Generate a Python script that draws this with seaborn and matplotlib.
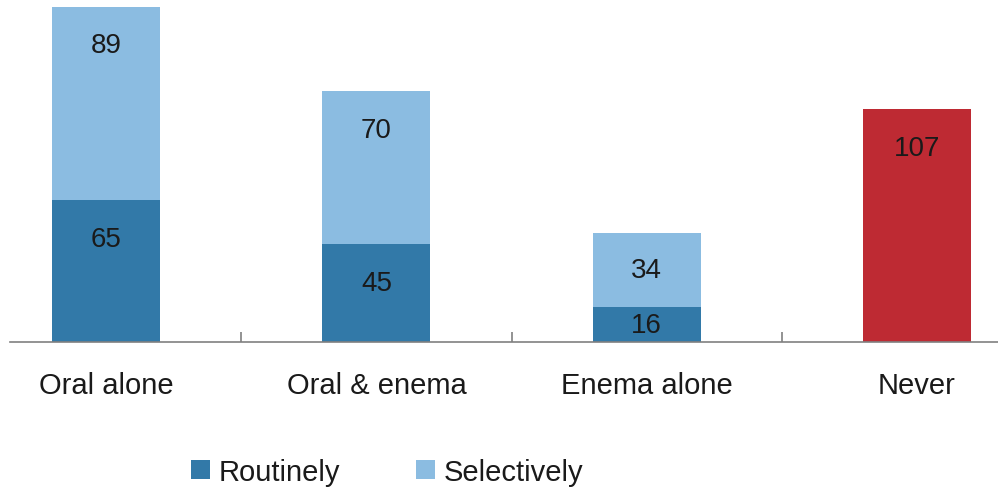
import matplotlib
matplotlib.use("Agg")
import matplotlib.pyplot as plt
from matplotlib.patches import Patch
import numpy as np
import pandas as pd
import seaborn as sns

# Bowel preparation use by category
categories = ["Oral alone", "Oral & enema", "Enema alone", "Never"]
routinely = [65, 45, 16, np.nan]
selectively = [89, 70, 34, np.nan]
never = [np.nan, np.nan, np.nan, 107]

DARK = "#3279a8"
LIGHT = "#8bbce1"
RED = "#be2a33"
TEXT = "#1a1a1a"
AXIS = "#808080"

sns.set_theme(style="white")
plt.rcParams["font.family"] = ["Liberation Sans", "DejaVu Sans"]

df = pd.DataFrame({
    "category": categories,
    "routinely": routinely,
    "selectively": selectively,
    "never": never,
})
df["stack_top"] = df["routinely"].fillna(0) + df["selectively"].fillna(0)
df.loc[df["never"].notna(), "stack_top"] = df["never"]

fig = plt.figure(figsize=(9.98, 4.89), dpi=100)
ax = fig.add_axes([10 / 998, 146 / 489, 988 / 998, 342 / 489])

top_colors = [RED if pd.notna(n) else LIGHT for n in df["never"]]
sns.barplot(data=df, x="category", y="stack_top", hue="category",
            palette=top_colors, legend=False, width=0.4, linewidth=0,
            saturation=1, ax=ax)
sns.barplot(data=df, x="category", y="routinely", color=DARK, width=0.4,
            linewidth=0, saturation=1, ax=ax)

ax.set_xlim(-0.356, 3.30)
ax.set_ylim(0, 157)


def put_label(x, bottom, value):
    if pd.isna(value):
        return
    top = bottom + value
    y = top - min(17.8, value / 2)
    ax.text(x, y, f"{int(value)}", ha="center", va="center",
            fontsize=20, color=TEXT)


for i, row in df.iterrows():
    if pd.notna(row["never"]):
        put_label(i, 0, row["never"])
    else:
        put_label(i, 0, row["routinely"])
        put_label(i, row["routinely"], row["selectively"])

for s in ["left", "right", "top"]:
    ax.spines[s].set_visible(False)
ax.spines["bottom"].set_color(AXIS)
ax.spines["bottom"].set_linewidth(1.2)

ax.set_yticks([])
ax.set_xlabel("")
ax.set_ylabel("")
ax.set_xticks(range(len(categories)))
ax.set_xticklabels(categories, fontsize=21, color=TEXT)
ax.tick_params(axis="x", which="major", bottom=True, length=0, pad=21)
ax.set_xticks([0.5, 1.5, 2.5], minor=True)
ax.tick_params(axis="x", which="minor", bottom=True, direction="in",
               length=7, width=1.2, color=AXIS)

handles = [Patch(facecolor=DARK, edgecolor="none", label="Routinely"),
           Patch(facecolor=LIGHT, edgecolor="none", label="Selectively")]
fig.legend(handles=handles, loc="center", ncol=2, frameon=False,
           bbox_to_anchor=(387 / 998, 1 - 473 / 489), fontsize=21,
           handlelength=0.65, handleheight=0.65, handletextpad=0.3,
           columnspacing=2.6, labelcolor=TEXT)

fig.savefig("out.png", dpi=100)
